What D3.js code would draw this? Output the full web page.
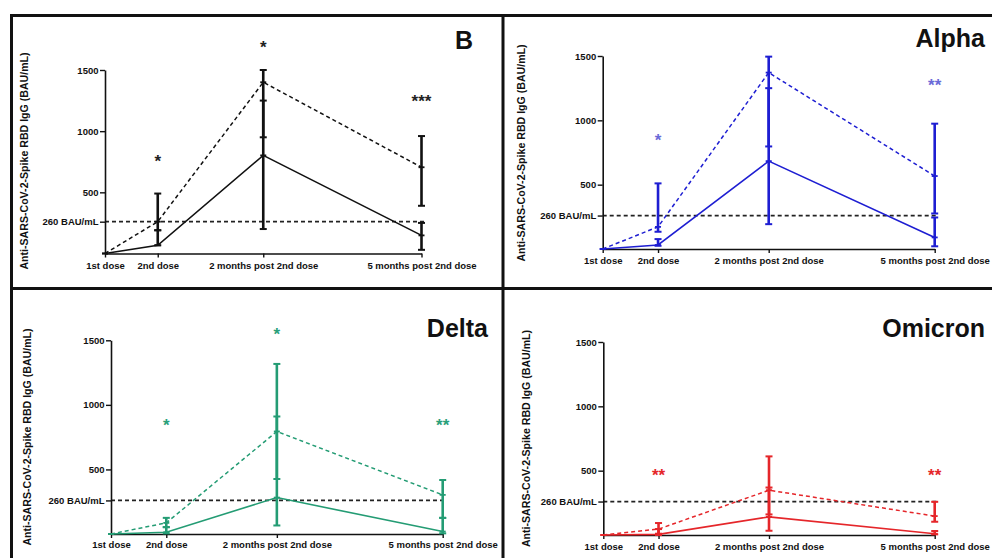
<!DOCTYPE html>
<html>
<head>
<meta charset="utf-8">
<script src="https://cdn.jsdelivr.net/npm/d3@7/dist/d3.min.js"></script>
<style>
  html, body { margin: 0; padding: 0; background: #fff; }
  svg { display: block; font-family: "Liberation Sans", Arial, sans-serif; }
</style>
</head>
<body>
<svg id="chart" width="992" height="558"></svg>
<script>
// ---------------- DATA ----------------
const categories = ["1st dose", "2nd dose", "2 months post 2nd dose", "5 months post 2nd dose"];
const monthsFromFirst = [0, 1, 3, 6];
const yTickValues = [260, 500, 1000, 1500];
const threshold = 260;
const yAxisTitle = "Anti-SARS-CoV-2-Spike RBD IgG (BAU/mL)";
const panelNames = ["B", "Alpha", "Delta", "Omicron"];

// B (ancestral)
const bDashed     = [0, 260, 1400, 705];
const bDashedLow  = [0, 190, 950, 390];
const bDashedHigh = [0, 490, 1500, 960];
const bSolid      = [0, 67, 802, 148];
const bSolidLow   = [0, 67, 200, 30];
const bSolidHigh  = [0, 190, 1250, 250];
const bStars      = ["", "*", "*", "***"];
const bStarY      = [null, 786, 1718, 1272];

// Alpha
const aDashed     = [0, 172, 1371, 567];
const aDashedLow  = [0, 134, 797, 276];
const aDashedHigh = [0, 510, 1495, 974];
const aSolid      = [0, 31, 683, 90];
const aSolidLow   = [0, 25, 193, 21];
const aSolidHigh  = [0, 77, 1250, 245];
const aStars      = ["", "*", "", "**"];
const aStarY      = [null, 876, null, 1302];

// Delta
const dDashed     = [0, 86, 794, 303];
const dDashedLow  = [0, 53, 426, 125];
const dDashedHigh = [0, 125, 1317, 418];
const dSolid      = [0, 14, 282, 19];
const dSolidLow   = [0, 5, 66, 5];
const dSolidHigh  = [0, 53, 910, 125];
const dStars      = ["", "*", "*", "**"];
const dStarY      = [null, 871, 1579, 871];

// Omicron
const oDashed     = [0, 46, 348, 147];
const oDashedLow  = [0, 10, 160, 103];
const oDashedHigh = [0, 93, 611, 258];
const oSolid      = [0, 5, 141, 10];
const oSolidLow   = [0, 0, 33, 5];
const oSolidHigh  = [0, 46, 369, 31];
const oStars      = ["", "**", "", "**"];
const oStarY      = [null, 495, null, 495];

// ---------------- STYLE / LAYOUT ----------------
const panels = [
  { name: panelNames[0], color: "#111111", starColor: "#222222",
    dashed: bDashed, dLo: bDashedLow, dHi: bDashedHigh, solid: bSolid, sLo: bSolidLow, sHi: bSolidHigh,
    stars: bStars, starY: bStarY,
    x0: 105, x1: 421.5, y0: 253.5, y1: 70, titleX: 473, titleY: 49, labelX: 25, labelY: 161, xLabY: 268.5 },
  { name: panelNames[1], color: "#1e1ed2", starColor: "#6a6ad8",
    dashed: aDashed, dLo: aDashedLow, dHi: aDashedHigh, solid: aSolid, sLo: aSolidLow, sHi: aSolidHigh,
    stars: aStars, starY: aStarY,
    x0: 602.7, x1: 934.7, y0: 249, y1: 56, titleX: 985, titleY: 47, labelX: 522, labelY: 153, xLabY: 263.5 },
  { name: panelNames[2], color: "#249c74", starColor: "#2aa07a",
    dashed: dDashed, dLo: dDashedLow, dHi: dDashedHigh, solid: dSolid, sLo: dSolidLow, sHi: dSolidHigh,
    stars: dStars, starY: dStarY,
    x0: 111, x1: 442.7, y0: 534, y1: 340.3, titleX: 488, titleY: 336.5, labelX: 28, labelY: 437, xLabY: 548 },
  { name: panelNames[3], color: "#e5262a", starColor: "#e5262a",
    dashed: oDashed, dLo: oDashedLow, dHi: oDashedHigh, solid: oSolid, sLo: oSolidLow, sHi: oSolidHigh,
    stars: oStars, starY: oStarY,
    x0: 603.3, x1: 934.7, y0: 535, y1: 342, titleX: 985, titleY: 337, labelX: 527.5, labelY: 438.5, xLabY: 550 }
];

const svg = d3.select("#chart");
const ink = "#111";

// Frame lines
const frame = svg.append("g").attr("stroke", ink).attr("stroke-width", 3);
frame.append("line").attr("x1", 10).attr("x2", 992).attr("y1", 15.5).attr("y2", 15.5);
frame.append("line").attr("x1", 11.5).attr("x2", 11.5).attr("y1", 14).attr("y2", 558);
frame.append("line").attr("x1", 503).attr("x2", 503).attr("y1", 14).attr("y2", 558);
frame.append("line").attr("x1", 10).attr("x2", 992).attr("y1", 288.5).attr("y2", 288.5);

panels.forEach(p => {
  const g = svg.append("g");
  const x = d3.scaleLinear().domain([0, 6]).range([p.x0, p.x1]);
  const y = d3.scaleLinear().domain([0, 1500]).range([p.y0, p.y1]);

  // threshold line
  g.append("line")
    .attr("x1", x(0)).attr("x2", x(6) + 3)
    .attr("y1", y(threshold)).attr("y2", y(threshold))
    .attr("stroke", "#222").attr("stroke-width", 1.8).attr("stroke-dasharray", "4,3");

  // y axis
  const yAxis = d3.axisLeft(y).tickValues(yTickValues).tickSize(5).tickSizeOuter(0).tickPadding(1.5)
    .tickFormat(v => v === threshold ? "260 BAU/mL" : String(v));
  const yg = g.append("g").attr("transform", `translate(${p.x0},0)`).call(yAxis);
  yg.select(".domain").attr("stroke", ink).attr("stroke-width", 1.6);
  yg.selectAll(".tick line").attr("stroke", ink).attr("stroke-width", 1.4);
  yg.selectAll(".tick text").attr("fill", ink).attr("font-size", "9.5px").attr("font-weight", "bold")
    .attr("font-family", "Liberation Sans, Arial, sans-serif");

  // x axis
  const xAxis = d3.axisBottom(x).tickValues(monthsFromFirst).tickSize(4).tickSizeOuter(0).tickPadding(5)
    .tickFormat((v, i) => categories[i]);
  const xg = g.append("g").attr("transform", `translate(0,${p.y0})`).call(xAxis);
  xg.select(".domain").attr("stroke", ink).attr("stroke-width", 1.6);
  xg.selectAll(".tick line").attr("stroke", ink).attr("stroke-width", 1.4);
  xg.selectAll(".tick text").attr("fill", ink).attr("font-size", "9.5px").attr("font-weight", "bold")
    .attr("font-family", "Liberation Sans, Arial, sans-serif")
    .attr("dy", null).attr("y", p.xLabY - p.y0);

  // y-axis title
  g.append("text")
    .attr("transform", `translate(${p.labelX},${p.labelY}) rotate(-90)`)
    .attr("text-anchor", "middle").attr("dominant-baseline", "middle")
    .attr("font-size", "10.6px").attr("font-weight", "bold").attr("fill", ink)
    .text(yAxisTitle);

  // panel title
  g.append("text")
    .attr("x", p.titleX).attr("y", p.titleY)
    .attr("text-anchor", "end").attr("font-size", "25px").attr("font-weight", "bold").attr("fill", ink)
    .text(p.name);

  const idx = d3.range(categories.length);

  // error bars
  const drawBars = (lo, hi) => {
    idx.slice(1).forEach(i => {
      g.append("line")
        .attr("x1", x(monthsFromFirst[i])).attr("x2", x(monthsFromFirst[i]))
        .attr("y1", y(lo[i])).attr("y2", y(hi[i]))
        .attr("stroke", p.color).attr("stroke-width", 2.6);
      [lo[i], hi[i]].forEach(v => {
        g.append("line")
          .attr("x1", x(monthsFromFirst[i]) - 3.5).attr("x2", x(monthsFromFirst[i]) + 3.5)
          .attr("y1", y(v)).attr("y2", y(v))
          .attr("stroke", p.color).attr("stroke-width", 2);
      });
    });
  };
  drawBars(p.dLo, p.dHi);
  drawBars(p.sLo, p.sHi);

  // lines
  const line = d3.line().x((d, i) => x(monthsFromFirst[i])).y(d => y(d));
  g.append("path").datum(p.dashed).attr("d", line)
    .attr("fill", "none").attr("stroke", p.color).attr("stroke-width", 1.5).attr("stroke-dasharray", "4,3");
  g.append("path").datum(p.solid).attr("d", line)
    .attr("fill", "none").attr("stroke", p.color).attr("stroke-width", 1.6);

  // point markers (small horizontal ticks)
  [p.dashed, p.solid].forEach(s => {
    s.forEach((v, i) => {
      g.append("line")
        .attr("x1", x(monthsFromFirst[i]) - 3).attr("x2", x(monthsFromFirst[i]) + 3)
        .attr("y1", y(v)).attr("y2", y(v))
        .attr("stroke", p.color).attr("stroke-width", 1.8);
    });
  });

  // significance stars
  idx.forEach(i => {
    if (!p.stars[i]) return;
    g.append("text")
      .attr("x", x(monthsFromFirst[i])).attr("y", y(p.starY[i]) + 9.5)
      .attr("text-anchor", "middle").attr("font-size", "17px").attr("font-weight", "bold")
      .attr("fill", p.starColor)
      .text(p.stars[i]);
  });
});
</script>
</body>
</html>
